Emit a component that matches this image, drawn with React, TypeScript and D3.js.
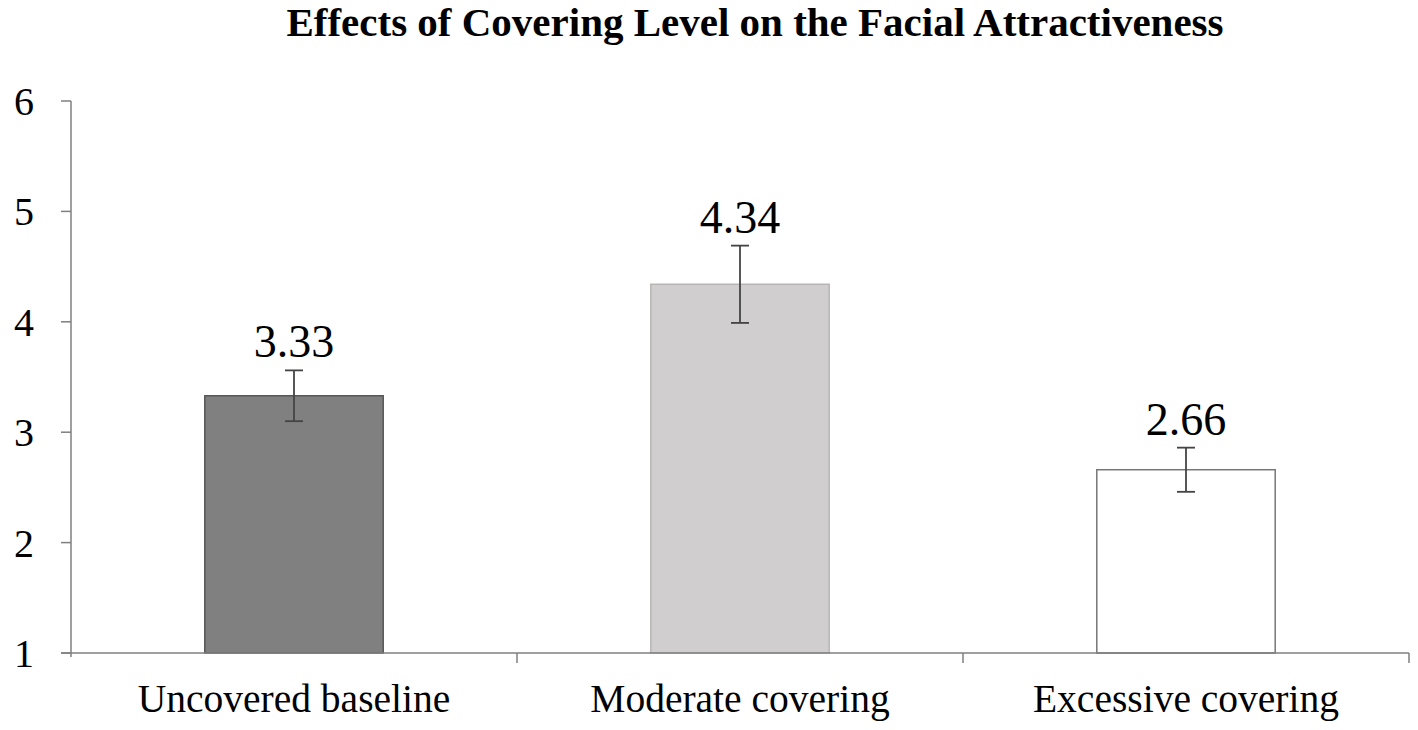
import React from "react";
import * as d3 from "d3";

const title = "Effects of Covering Level on the Facial Attractiveness";
const categories = ["Uncovered baseline", "Moderate covering", "Excessive covering"];
const means = [3.33, 4.34, 2.66];
const errors = [0.23, 0.35, 0.2];
const labels = ["3.33", "4.34", "2.66"];
const yTicks = [1, 2, 3, 4, 5, 6];
const fills = ["#808080", "#d0cece", "#ffffff"];
const strokes = ["#555555", "#b8b4b4", "#777777"];

const W = 1418;
const H = 730;
const left = 71;
const right = 1409;
const top = 101;
const bottom = 653;

export default function App() {
  const x = d3.scaleBand<string>().domain(categories).range([left, right]).paddingInner(0.6).paddingOuter(0.3);
  const band = d3.scaleBand<string>().domain(categories).range([left, right]).padding(0);
  const y = d3.scaleLinear().domain([1, 6]).range([bottom, top]);
  const font = "'Liberation Serif', 'Times New Roman', serif";
  const axisColor = "#7f7f7f";
  return (
    <svg width={W} height={H} style={{ position: "absolute", left: 0, top: 0, background: "#fff" }} fontFamily={font}>
      <text x={755} y={36} textAnchor="middle" fontSize={41} fontWeight="bold" fill="#000">
        {title}
      </text>
      {/* y axis */}
      <line x1={left} x2={left} y1={y(6)} y2={bottom + 4} stroke={axisColor} strokeWidth={1.5} />
      {yTicks.map((t) => (
        <g key={t}>
          <line x1={left - 10} x2={left} y1={y(t)} y2={y(t)} stroke={axisColor} strokeWidth={1.5} />
          <text x={34} y={y(t) + 14} textAnchor="end" fontSize={40} fill="#000">
            {t}
          </text>
        </g>
      ))}
      {/* bars */}
      {categories.map((c, i) => (
        <rect
          key={c}
          x={x(c)!}
          y={y(means[i])}
          width={x.bandwidth()}
          height={bottom - y(means[i])}
          fill={fills[i]}
          stroke={strokes[i]}
          strokeWidth={1.5}
        />
      ))}
      {/* x axis */}
      <line x1={left - 10} x2={right} y1={bottom} y2={bottom} stroke={axisColor} strokeWidth={1.5} />
      {categories.map((c) => (
        <line key={"t" + c} x1={band(c)! + band.bandwidth()} x2={band(c)! + band.bandwidth()} y1={bottom} y2={bottom + 10} stroke={axisColor} strokeWidth={1.5} />
      ))}
      {/* error bars */}
      {categories.map((c, i) => {
        const cx = x(c)! + x.bandwidth() / 2;
        const y1 = y(means[i] + errors[i]);
        const y2 = y(means[i] - errors[i]);
        return (
          <g key={"e" + c} stroke="#444" strokeWidth={1.8}>
            <line x1={cx} x2={cx} y1={y1} y2={y2} />
            <line x1={cx - 9} x2={cx + 9} y1={y1} y2={y1} />
            <line x1={cx - 9} x2={cx + 9} y1={y2} y2={y2} />
          </g>
        );
      })}
      {/* value labels */}
      {categories.map((c, i) => (
        <text key={"v" + c} x={x(c)! + x.bandwidth() / 2} y={y(means[i] + errors[i]) - 13} textAnchor="middle" fontSize={46} fill="#000">
          {labels[i]}
        </text>
      ))}
      {/* category labels */}
      {categories.map((c) => (
        <text key={"c" + c} x={band(c)! + band.bandwidth() / 2} y={712} textAnchor="middle" fontSize={39.5} fill="#000">
          {c}
        </text>
      ))}
    </svg>
  );
}
